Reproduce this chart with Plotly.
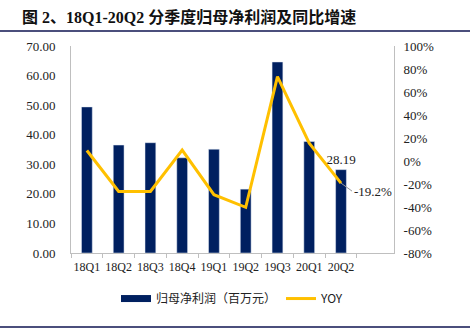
import plotly.graph_objects as go

categories = ["18Q1", "18Q2", "18Q3", "18Q4", "19Q1", "19Q2", "19Q3", "20Q1", "20Q2"]
profit = [49.4, 36.5, 37.3, 32.2, 35.1, 21.6, 64.6, 37.7, 28.19]
yoy = [9.1, -26.5, -26.5, 9.5, -29.3, -40.3, 73.4, 15.5, -19.2]
left_ticks = [0, 10, 20, 30, 40, 50, 60, 70]
right_ticks = [-80, -60, -40, -20, 0, 20, 40, 60, 80, 100]

title_text = "图 2、18Q1-20Q2 分季度归母净利润及同比增速"
bar_name = "归母净利润（百万元）"
line_name = "YOY"

NAVY = "#002060"
GOLD = "#FFC000"
SERIF = "Liberation Serif, Times New Roman, serif"
CJK = "Noto Sans CJK SC"

bar_text = [""] * (len(profit) - 1) + [f"{profit[-1]:.2f}"]

fig = go.Figure()
fig.add_trace(go.Bar(
    x=categories, y=profit, name=bar_name, marker_color=NAVY,
    text=bar_text, textposition="outside", cliponaxis=False,
    constraintext="none",
    textfont=dict(family=SERIF, size=13, color="#222"),
    width=0.34, showlegend=False,
))
# legend stand-in for the bar series (wide rectangle symbol)
fig.add_trace(go.Scatter(
    x=[None], y=[None], mode="lines", name=bar_name,
    line=dict(color=NAVY, width=7),
))
fig.add_trace(go.Scatter(
    x=categories, y=yoy, name=line_name, mode="lines", yaxis="y2",
    line=dict(color=GOLD, width=3),
))

fig.add_annotation(
    x=categories[-1], y=yoy[-1], yref="y2", text=f"{yoy[-1]:.1f}%",
    showarrow=True, arrowhead=0, arrowwidth=1, arrowcolor="#999",
    ax=11, ay=8, xanchor="left",
    font=dict(family=SERIF, size=13, color="#222"),
)

fig.update_layout(
    width=470, height=332,
    margin=dict(l=71, r=76, t=46, b=79),
    paper_bgcolor="white", plot_bgcolor="white",
    title=dict(text=title_text, xref="container", x=22/470, xanchor="left",
               yref="container", y=1-17/332, yanchor="middle",
               font=dict(family=SERIF + ", " + CJK, size=16, color="#111", weight="bold")),
    xaxis=dict(
        showline=True, linecolor="#BFBFBF", linewidth=1,
        ticks="outside", tickson="boundaries", ticklen=4, tickcolor="#BFBFBF",
        tickangle=0, automargin=False, ticklabelstandoff=3,
        tickfont=dict(family=SERIF, size=12, color="#222"),
        showgrid=False,
    ),
    yaxis=dict(
        range=[0, 70], tickvals=left_ticks,
        ticktext=[f"{v:.2f}" for v in left_ticks],
        showline=True, linecolor="#BFBFBF", linewidth=1,
        showgrid=False, zeroline=False, ticks="", automargin=False,
        ticklabelstandoff=12,
        tickfont=dict(family=SERIF, size=13, color="#222"),
    ),
    yaxis2=dict(
        range=[-80, 100], tickvals=right_ticks,
        ticktext=[f"{v}%" for v in right_ticks],
        overlaying="y", side="right",
        showline=True, linecolor="#BFBFBF", linewidth=1,
        showgrid=False, zeroline=False, ticks="", automargin=False,
        ticklabelstandoff=6,
        tickfont=dict(family=SERIF, size=13, color="#222"),
    ),
    legend=dict(orientation="h", x=0.5, xanchor="center", y=-0.22, yanchor="middle",
                font=dict(family=CJK, size=12, color="#222"),
                itemwidth=30, traceorder="normal"),
    shapes=[
        dict(type="line", xref="paper", yref="paper",
             x0=-71/323, x1=(470-71)/323, y0=1+15/207, y1=1+15/207,
             line=dict(color="#4B4F7C", width=2)),
        dict(type="line", xref="paper", yref="paper",
             x0=-71/323, x1=(470-71)/323, y0=-74/207, y1=-74/207,
             line=dict(color="#4B4F7C", width=2)),
    ],
)

fig.write_html("out.html")
